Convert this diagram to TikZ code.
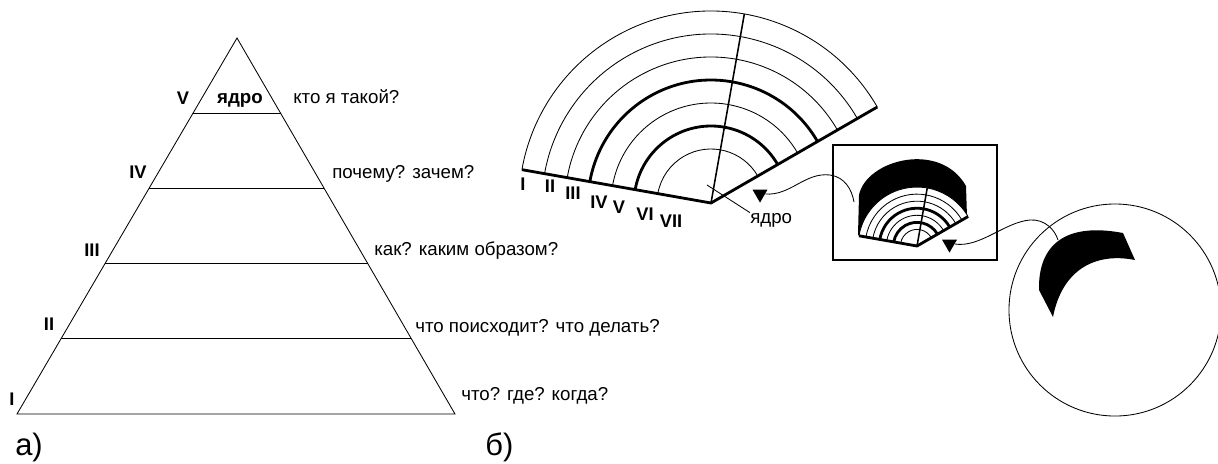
\documentclass[tikz,border=0pt]{standalone}
\usepackage{fontspec}
\setmainfont{Liberation Sans}
\usetikzlibrary{calc,shapes.geometric}

% sector with seven rings, outer radius 192 units
\newcommand{\layerfan}{%
  \fill[white] (0,0) -- (30:192) arc[start angle=30, end angle=170, radius=192] -- cycle;
  \foreach \k in {0,...,6}
    \draw[ring] (30:{192-23*\k}) arc[start angle=30, end angle=170, radius={192-23*\k}];
  \foreach \k in {3,5}
    \draw[ring, line width=2pt] (30:{192-23*\k}) arc[start angle=30, end angle=170, radius={192-23*\k}];
  \draw[line width=1.1pt] (0,0) -- (80:192);
  \draw[line width=2pt, line join=miter] (170:192) -- (0,0) -- (30:192);
}

\begin{document}
\begin{tikzpicture}[x=0.025cm, y=-0.025cm, font=\fontsize{13.3}{16}\selectfont,
  edge/.style={line width=0.6pt},
  ring/.style={line width=0.6pt},
  wire/.style={line width=0.6pt},
  lbl/.style={inner sep=0pt},
  num/.style={inner sep=0pt, font=\fontsize{13}{15}\selectfont\bfseries},
  tag/.style={inner sep=0pt, font=\fontsize{22}{26}\selectfont},
  marker/.style={regular polygon, regular polygon sides=3, shape border rotate=180, fill=black, inner sep=0pt, minimum size=0.43cm}]
\useasboundingbox (0,0) rectangle (1218,463);

% a) pyramid
\coordinate (apex) at (237,38);
\coordinate (bl) at (17,414);
\coordinate (br) at (455,414);
\draw[edge] (bl) -- (apex) -- (br) -- cycle;
\foreach \t in {0.2,0.4,0.6,0.8}
  \draw[edge] ($(apex)!\t!(bl)$) -- ($(apex)!\t!(br)$);
\foreach \n/\x/\y in {V/183/104, IV/138/178, III/92/256, II/49/330, I/12/405}
  \node[num, anchor=base] (p\n) at (\x,\y) {\n};
\node[lbl, anchor=base, font=\fontsize{13.3}{16}\selectfont\bfseries] (core) at (240,103) {ядро};
\node[lbl, anchor=base west] (q5) at (293,103) {кто я такой?};
\node[lbl, anchor=base west] (q4) at (332,178) {почему? зачем?};
\node[lbl, anchor=base west] (q3) at (374,255) {как? каким образом?};
\node[lbl, anchor=base west] (q2) at (415,332) {что поисходит? что делать?};
\node[lbl, anchor=base west] (q1) at (461,400) {что? где? когда?};
\node[tag, anchor=base west] (capA) at (15,455) {а)};

% b) rings
\begin{scope}[shift={(711,203)}, x=0.025cm, y=0.025cm]
  \layerfan
\end{scope}
\foreach \n/\x/\y in {I/523/190, II/550/192, III/573/199, IV/599/208, V/619/213, VI/645/220, VII/671/227}
  \node[num, anchor=base] (f\n) at (\x,\y) {\n};
\coordinate (coreTip) at (707,185);
\node[lbl, anchor=base west] (coreLbl) at (750,223) {ядро};
\draw[wire] (coreTip) -- (coreLbl.north west);
\node[tag, anchor=base west] (capB) at (485,455) {б)};

% inset
\node[draw, line width=0.9pt, minimum width=4.1cm, minimum height=2.875cm] (inset) at (915,202.5) {};
\fill (858,235) -- (859,195) .. controls (866,160) and (940,140) .. (966,186) -- (967,217) -- (917,246) -- cycle;
\begin{scope}[shift={(917,246)}, x=0.025cm, y=0.025cm, scale=0.307]
  \layerfan
\end{scope}

% lens
\node[draw, circle, line width=0.6pt, minimum size=5.3cm] (lens) at (1115,310) {};
\fill (1053,317) -- (1039,290) .. controls (1038,245) and (1065,222) .. (1123,233) -- (1135,260) .. controls (1095,252) and (1062,270) .. cycle;

% pointers
\node[marker] (tri1) at (760,194) {};
\node[marker] (tri2) at (949.5,244) {};
\coordinate (insetHit) at (854,202);
\coordinate (crescentHit) at (1058,240);
\draw[wire] (tri1.east) .. controls +(25,2) and (805,172) .. (830,175) .. controls (845,177) and (852,190) .. (insetHit);
\draw[wire] (tri2.east) .. controls +(25,4) and (1005,222) .. (1030,220) .. controls (1045,219) and (1055,230) .. (crescentHit);
\end{tikzpicture}
\end{document}
